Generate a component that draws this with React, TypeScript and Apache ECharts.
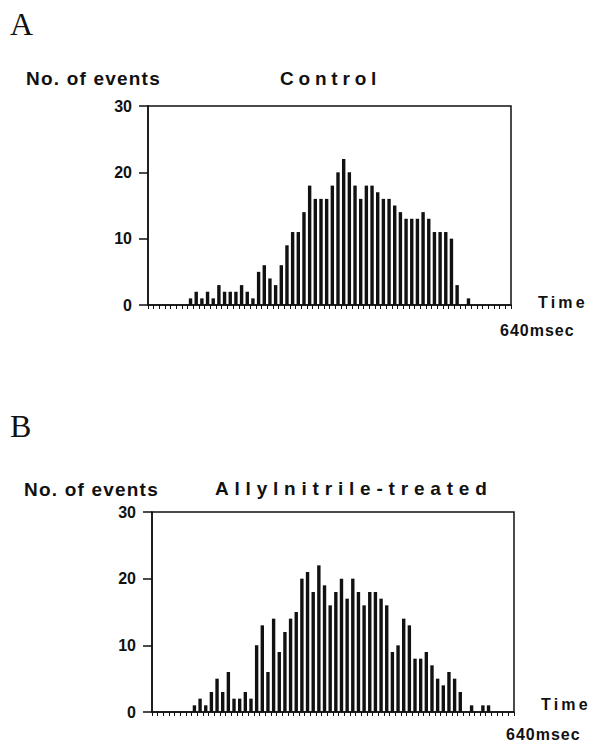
import React, { useEffect, useRef } from "react";
import * as echarts from "echarts";

// 64 time bins of 10 msec (0–640 msec)
const binCount = 64;
const timeBins: string[] = Array.from({ length: binCount }, (_, i) => `${i * 10}`);

// Panel A – Control (counts per bin)
const controlCounts: number[] = [
  0, 0, 0, 0, 0, 0, 0,
  1, 2, 1, 2, 1, 3, 2, 2, 2, 3,
  2, 1, 5, 6, 4, 3, 6, 9, 11, 11,
  14, 18, 16, 16, 16, 18, 20, 22, 20, 18,
  16, 18, 18, 17, 16, 16, 15, 14, 13, 13,
  13, 14, 13, 11, 11, 11, 10, 3, 0, 1,
  0, 0, 0, 0, 0, 0, 0,
];

// Panel B – Allylnitrile-treated (counts per bin)
const allylCounts: number[] = [
  0, 0, 0, 0, 0, 0, 0,
  1, 2, 1, 3, 5, 3, 6, 2, 2, 3,
  2, 10, 13, 6, 14, 9, 12, 14, 15, 20,
  21, 18, 22, 19, 16, 18, 20, 17, 20, 18,
  16, 18, 18, 17, 16, 9, 10, 14, 13, 8,
  8, 9, 7, 5, 4, 6, 5, 3, 0, 1,
  0, 1, 1,
  0, 0, 0, 0,
];

const yTicks: number[] = [0, 10, 20, 30];

const panelLetters = ["A", "B"];
const panelTitles = ["Control", "Allylnitrile-treated"];
const yAxisName = "No. of events";
const xAxisName = "Time";
const xAxisEnd = "640msec";

const INK = "#111";
const SANS = '"Liberation Sans", Arial, sans-serif';
const SERIF = '"Liberation Serif", "Times New Roman", serif';

const spacing: Record<string, number> = {
  "Control": 4.8,
  "Allylnitrile-treated": 5.8,
  "No. of events": 1.2,
  "Time": 3.2,
  "640msec": 1,
};

export default function App() {
  const ref = useRef<HTMLDivElement>(null);

  useEffect(() => {
    if (!ref.current) return;
    const chart = echarts.init(ref.current, undefined, { renderer: "svg" });

    const grids = [
      { left: 148, top: 106, width: 363, height: 199 },
      { left: 152, top: 512, width: 362, height: 200 },
    ];

    const txt = (text: string, x: number, y: number, font: string) => ({
      type: "text",
      x,
      y,
      silent: true,
      style: { text, font, fill: INK, textAlign: "left", textVerticalAlign: "middle" },
    });

    const option: any = {
      animation: false,
      backgroundColor: "#fff",
      grid: grids.map((g) => ({
        ...g,
        show: true,
        borderColor: INK,
        borderWidth: 1.5,
        backgroundColor: "transparent",
      })),
      xAxis: grids.map((_, i) => ({
        type: "category",
        gridIndex: i,
        data: timeBins,
        boundaryGap: true,
        axisLine: { show: true, lineStyle: { color: INK, width: 1.5 } },
        axisTick: {
          show: true,
          inside: false,
          length: 4,
          interval: 0,
          lineStyle: { color: INK, width: 1 },
        },
        axisLabel: { show: false },
        splitLine: { show: false },
      })),
      yAxis: grids.map((_, i) => ({
        type: "value",
        gridIndex: i,
        min: 0,
        max: 30,
        interval: 10,
        axisLine: { show: true, lineStyle: { color: INK, width: 1.5 } },
        axisTick: { show: true, inside: false, length: 9, lineStyle: { color: INK, width: 1.5 } },
        axisLabel: {
          show: true,
          margin: 16,
          color: INK,
          fontFamily: SANS,
          fontWeight: "bold",
          fontSize: 16,
          formatter: (v: number) => (yTicks.includes(v) ? String(v) : ""),
        },
        splitLine: { show: false },
      })),
      series: [controlCounts, allylCounts].map((d, i) => ({
        type: "bar",
        xAxisIndex: i,
        yAxisIndex: i,
        data: d,
        barWidth: "60%",
        itemStyle: { color: INK },
        silent: true,
      })),
      graphic: [
        txt(panelLetters[0], 10, 24, `32px ${SERIF}`),
        txt(yAxisName, 26, 78, `bold 19px ${SANS}`),
        txt(panelTitles[0], 280, 78, `bold 19px ${SANS}`),
        txt(xAxisName, 538, 302, `bold 16px ${SANS}`),
        txt(xAxisEnd, 500, 330, `bold 16px ${SANS}`),
        txt(panelLetters[1], 10, 426, `32px ${SERIF}`),
        txt(yAxisName, 24, 489, `bold 19px ${SANS}`),
        txt(panelTitles[1], 215, 488, `bold 19px ${SANS}`),
        txt(xAxisName, 541, 704, `bold 16px ${SANS}`),
        txt(xAxisEnd, 506, 734, `bold 16px ${SANS}`),
      ],
    };

    chart.setOption(option);

    const applySpacing = () => {
      ref.current?.querySelectorAll("text").forEach((t) => {
        const ls = spacing[(t.textContent || "").trim()];
        if (ls) t.setAttribute("letter-spacing", String(ls));
      });
    };
    applySpacing();
    chart.on("finished", applySpacing);

    return () => {
      chart.dispose();
    };
  }, []);

  return (
    <div
      ref={ref}
      style={{ position: "fixed", left: 0, top: 0, width: 593, height: 742, background: "#fff" }}
    />
  );
}
